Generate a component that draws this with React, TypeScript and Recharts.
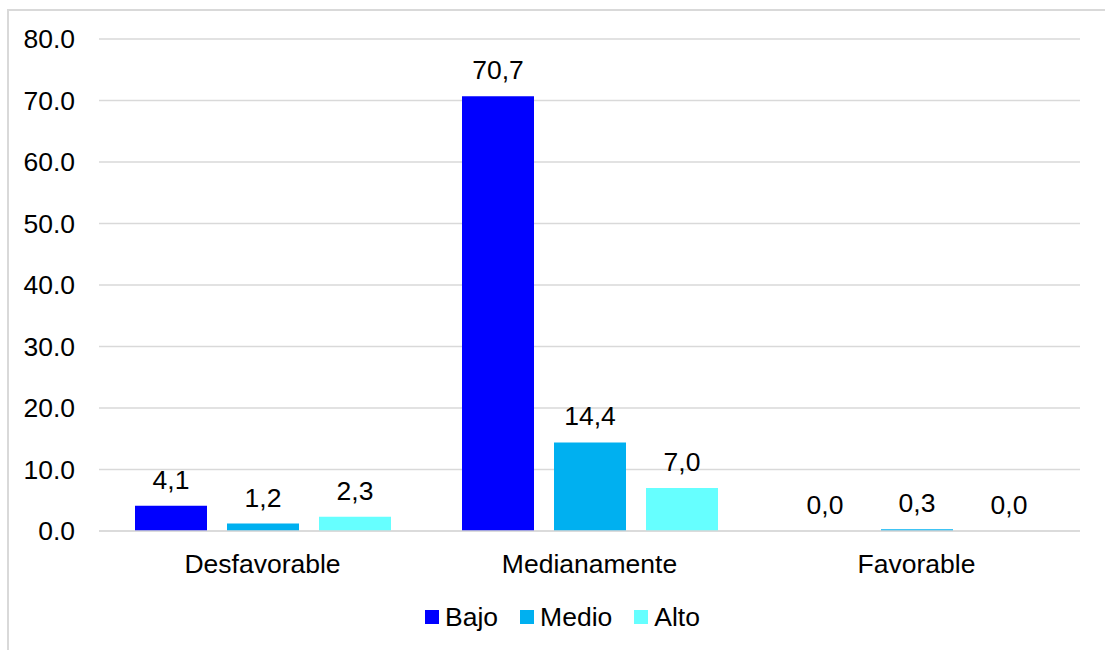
import React from 'react';
import { BarChart, Bar, XAxis, YAxis, CartesianGrid, Legend, LabelList } from 'recharts';

const categories = ['Desfavorable', 'Medianamente', 'Favorable'];
const bajo = [4.1, 70.7, 0.0];
const medio = [1.2, 14.4, 0.3];
const alto = [2.3, 7.0, 0.0];
const yTicks = [0, 10, 20, 30, 40, 50, 60, 70, 80];

const seriesDefs = [
  { key: 'Bajo', values: bajo, color: '#0000FF' },
  { key: 'Medio', values: medio, color: '#00B0F0' },
  { key: 'Alto', values: alto, color: '#66FFFF' },
];

const data = categories.map((c, i) => {
  const row: any = { name: c };
  seriesDefs.forEach((s) => { row[s.key] = s.values[i]; });
  return row;
});

const FONT = '"Liberation Sans", Arial, sans-serif';
const FS = 26.5;

const fmtLabel = (v: any) => Number(v).toFixed(1).replace('.', ',');

const LegendContent = () => (
  <div style={{ display: 'flex', justifyContent: 'center', alignItems: 'center', height: 40, paddingLeft: 20, fontFamily: FONT, fontSize: FS, color: '#000' }}>
    {seriesDefs.map((s, i) => (
      <div key={s.key} style={{ display: 'flex', alignItems: 'center', marginRight: i < seriesDefs.length - 1 ? 22 : 0 }}>
        <div style={{ width: 14, height: 14, background: s.color, marginRight: 6 }} />
        <span style={{ lineHeight: '40px' }}>{s.key}</span>
      </div>
    ))}
  </div>
);

export default function App() {
  return (
    <div style={{ position: 'absolute', left: 0, top: 0, width: 1105, height: 650, overflow: 'hidden', background: '#fff' }}>
      <div style={{ position: 'absolute', left: 7, top: 9, width: 1200, height: 800, borderLeft: '2px solid #d9d9d9', borderTop: '2px solid #d9d9d9' }} />
      <div style={{ position: 'absolute', left: 0, top: 0 }}>
        <BarChart
          width={1105}
          height={650}
          data={data}
          margin={{ top: 39, right: 25, left: 0, bottom: 24 }}
          barCategoryGap={36}
          barGap={20}
          style={{ fontFamily: FONT }}
        >
          <CartesianGrid vertical={false} stroke="#d9d9d9" strokeWidth={1.5} />
          <XAxis
            dataKey="name"
            height={55}
            axisLine={{ stroke: '#d9d9d9', strokeWidth: 1.5 }}
            tickLine={false}
            tickMargin={17}
            tick={{ fontSize: FS, fill: '#000', fontFamily: FONT }}
          />
          <YAxis
            width={99}
            domain={[0, 80]}
            ticks={yTicks}
            interval={0}
            axisLine={false}
            tickLine={false}
            tickMargin={18}
            tickFormatter={(v: number) => v.toFixed(1)}
            tick={{ fontSize: FS, fill: '#000', fontFamily: FONT }}
          />
          <Legend
            verticalAlign="bottom"
            content={<LegendContent />}
            wrapperStyle={{ left: 0, width: 1105, bottom: 13 }}
          />
          {seriesDefs.map((s) => (
            <Bar key={s.key} dataKey={s.key} fill={s.color} minPointSize={0.01} isAnimationActive={false}>
              <LabelList
                dataKey={s.key}
                position="top"
                offset={17}
                formatter={fmtLabel}
                style={{ fontSize: FS, fill: '#000', fontFamily: FONT }}
              />
            </Bar>
          ))}
        </BarChart>
      </div>
    </div>
  );
}
